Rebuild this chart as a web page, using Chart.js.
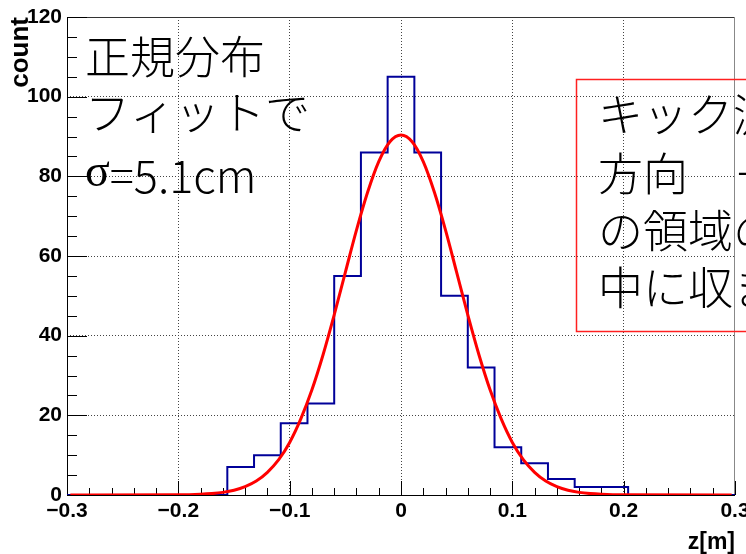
<!DOCTYPE html>
<html><head><meta charset="utf-8">
<script src="https://cdn.jsdelivr.net/npm/chart.js@4.4.0/dist/chart.umd.min.js"></script>
<style>html,body{margin:0;padding:0;background:#fff;overflow:hidden}#wrap{width:746px;height:554px;position:relative}</style>
</head><body><div id="wrap"><canvas id="c" width="746" height="554"></canvas></div>
<script>
// ---- data ----
const binEdges = [-0.300,-0.276,-0.252,-0.228,-0.204,-0.180,-0.156,-0.132,-0.108,-0.084,-0.060,-0.036,-0.012,
                  0.012,0.036,0.060,0.084,0.108,0.132,0.156,0.180,0.204,0.228,0.252,0.276,0.300];
const counts = [0,0,0,0,0,0,7,10,18,23,55,86,105,86,50,32,12,8,4,2,2,0,0,0,0];
const fitX = [-0.297,-0.20,-0.18,-0.17,-0.16,-0.15,-0.14,-0.13,-0.12,-0.11,-0.10,-0.09,-0.08,-0.07,-0.06,-0.05,-0.04,-0.03,-0.02,-0.01,
              0.00,0.01,0.02,0.03,0.04,0.05,0.06,0.07,0.08,0.09,0.10,0.11,0.12,0.13,0.14,0.15,0.16,0.17,0.18,0.20,0.297];
const fitY = [0,0.04,0.18,0.35,0.66,1.2,2.1,3.5,5.7,8.8,13.2,19.1,26.4,35.2,45.2,55.9,66.5,76.0,83.7,88.7,
              90.4,88.7,83.7,76.0,66.5,55.9,45.2,35.2,26.4,19.1,13.2,8.8,5.7,3.5,2.1,1.2,0.66,0.35,0.18,0.04,0];
const xTicks = [-0.3,-0.2,-0.1,0,0.1,0.2,0.3];
const yTicks = [0,20,40,60,80,100,120];
const xTitle = 'z[m]';
const yTitle = 'count';
const leftNote = ['正規分布','フィットで','=5.1cm'];
const sigmaSym = 'σ';
const boxNote = ['キック測定','方向　－10cm','の領域の','中に収まる'];

// ---- build datasets ----
const histPts = [];
for (let i = 0; i < counts.length; i++) {
  histPts.push({x: binEdges[i], y: counts[i]});
  histPts.push({x: binEdges[i+1], y: counts[i]});
}
const fitPts = fitX.map((x, i) => ({x, y: fitY[i]}));

const tickFont = {family: '"Liberation Sans Narrow","Liberation Sans",Arial,sans-serif', size: 21, weight: 'bold'};
const jpFont = '"Noto Sans CJK JP Light","Noto Sans CJK JP","Noto Sans CJK SC",sans-serif';

const framePlugin = {
  id: 'frame',
  beforeDatasetsDraw(chart) {
    const {ctx, chartArea: a, scales: {x, y}} = chart;
    ctx.save();
    ctx.lineWidth = 1;
    ctx.strokeStyle = '#000';
    ctx.beginPath();
    ctx.moveTo(a.left + 0.5, a.top); ctx.lineTo(a.left + 0.5, a.bottom);
    ctx.moveTo(a.left, a.bottom + 0.5); ctx.lineTo(a.right, a.bottom + 0.5);
    ctx.stroke();
    ctx.strokeStyle = '#333';
    ctx.beginPath();
    ctx.moveTo(a.left, a.top + 0.5); ctx.lineTo(a.right, a.top + 0.5);
    ctx.stroke();
    ctx.strokeStyle = '#888';
    ctx.beginPath();
    ctx.moveTo(a.right - 0.5, a.top); ctx.lineTo(a.right - 0.5, a.bottom);
    ctx.stroke();
    ctx.strokeStyle = '#000';
    ctx.beginPath();
    for (let v = 0; v <= 120.001; v += 5) {
      const py = Math.round(y.getPixelForValue(v)) + 0.5;
      const len = (Math.round(v) % 20 === 0) ? 20 : 10;
      ctx.moveTo(a.left, py); ctx.lineTo(a.left + len, py);
    }
    for (let k = 0; k <= 30; k++) {
      const v = -0.3 + k * 0.02;
      const px = Math.round(x.getPixelForValue(v)) + 0.5;
      const len = (k % 5 === 0) ? 14 : 7;
      ctx.moveTo(px, a.bottom); ctx.lineTo(px, a.bottom - len);
    }
    ctx.stroke();
    ctx.restore();
  },
  afterDraw(chart) {
    const {ctx} = chart;
    ctx.save();
    ctx.fillStyle = '#000';
    ctx.textBaseline = 'middle';
    ctx.textAlign = 'left';
    ctx.font = '300 45px ' + jpFont;
    ctx.fillText(leftNote[0], 85, 57);
    ctx.fillText(leftNote[1], 85, 113);
    ctx.font = '46px "Liberation Serif","DejaVu Serif",serif';
    ctx.fillText(sigmaSym, 85, 174);
    const sw = ctx.measureText(sigmaSym).width;
    ctx.font = '300 45px ' + jpFont;
    ctx.fillText(leftNote[2], 85 + sw, 176);
    ctx.strokeStyle = '#ff2020';
    ctx.lineWidth = 1.5;
    ctx.strokeRect(576.5, 79.5, 300, 252);
    const ys = [115, 174, 231, 288];
    boxNote.forEach((t, i) => ctx.fillText(t, 598, ys[i]));
    ctx.restore();
  }
};

new Chart(document.getElementById('c'), {
  type: 'line',
  data: {datasets: [
    {label: 'fit', data: fitPts, borderColor: '#ff0000', borderWidth: 3, pointRadius: 0,
     cubicInterpolationMode: 'monotone', order: 0},
    {label: 'hist', data: histPts, borderColor: '#000099', borderWidth: 2, pointRadius: 0,
     tension: 0, order: 1}
  ]},
  options: {
    responsive: false, animation: false, devicePixelRatio: 1,
    layout: {padding: {left: 0, top: 17, right: 11, bottom: 0}},
    plugins: {legend: {display: false}, tooltip: {enabled: false}},
    scales: {
      x: {
        type: 'linear', min: -0.3, max: 0.3,
        afterBuildTicks(s) { s.ticks = xTicks.map(v => ({value: v})); },
        ticks: {color: '#000', font: tickFont, padding: 4, maxRotation: 0, autoSkip: false,
                callback: v => String(Math.round(v * 10) / 10).replace('-', '\u2212')},
        grid: {drawTicks: false, lineWidth: 1,
               color: c => (c.index === 0 || c.index === xTicks.length - 1) ? 'rgba(0,0,0,0)' : '#444'},
        border: {display: false, dash: [1, 2]},
        title: {display: true, text: xTitle, align: 'end', color: '#000',
                font: {family: '"Liberation Sans",Arial,sans-serif', size: 23, weight: 'bold', lineHeight: 1},
                padding: {top: 0, bottom: 0}},
        afterFit(s) { s.height = 59; s.paddingLeft = 0; s.paddingRight = 0; }
      },
      y: {
        min: 0, max: 120,
        afterBuildTicks(s) { s.ticks = yTicks.map(v => ({value: v})); },
        ticks: {color: '#000', font: tickFont, padding: 5},
        grid: {drawTicks: false, lineWidth: 1,
               color: c => (c.index === 0 || c.index === yTicks.length - 1) ? 'rgba(0,0,0,0)' : '#444'},
        border: {display: false, dash: [1, 2]},
        title: {display: true, text: yTitle, align: 'end', color: '#000',
                font: {family: '"Liberation Sans",Arial,sans-serif', size: 26, weight: 'bold', lineHeight: 1.2},
                padding: {top: 5, bottom: 0}},
        afterFit(s) { s.width = 67; s.paddingTop = 0; s.paddingBottom = 0; }
      }
    }
  },
  plugins: [framePlugin]
});
</script></body></html>
